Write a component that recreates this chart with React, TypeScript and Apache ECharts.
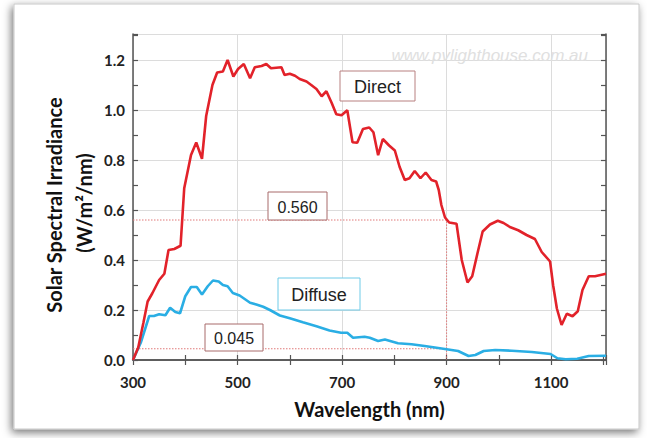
import React, { useEffect, useRef } from "react";
import * as echarts from "echarts";

const directWl = [300, 310, 320, 328, 337, 350, 360, 368, 379, 391, 398, 411, 421, 432, 440, 452, 461, 472, 481, 492, 501, 512, 524, 533, 546, 555, 564, 584, 590, 600, 610, 619, 632, 641, 651, 661, 670, 680, 689, 699, 710, 720, 729, 740, 752, 760, 769, 778, 790, 801, 810, 820, 829, 839, 850, 860, 871, 880, 885, 890, 897, 905, 919, 929, 940, 949, 959, 969, 983, 998, 1009, 1021, 1037, 1053, 1069, 1082, 1098, 1104, 1111, 1120, 1130, 1141, 1151, 1160, 1172, 1184, 1205];
const directVal = [0, 0.05, 0.15, 0.234, 0.267, 0.32, 0.345, 0.44, 0.444, 0.457, 0.687, 0.82, 0.87, 0.805, 0.976, 1.1, 1.15, 1.154, 1.2, 1.134, 1.164, 1.184, 1.127, 1.171, 1.176, 1.184, 1.167, 1.171, 1.14, 1.145, 1.137, 1.124, 1.114, 1.1, 1.084, 1.055, 1.075, 1.029, 0.983, 0.979, 0.999, 0.871, 0.869, 0.924, 0.93, 0.911, 0.819, 0.884, 0.858, 0.838, 0.773, 0.72, 0.727, 0.756, 0.727, 0.75, 0.72, 0.714, 0.68, 0.62, 0.57, 0.55, 0.545, 0.4, 0.31, 0.335, 0.426, 0.514, 0.542, 0.557, 0.548, 0.532, 0.519, 0.5, 0.484, 0.432, 0.394, 0.297, 0.206, 0.14, 0.185, 0.175, 0.195, 0.28, 0.335, 0.335, 0.345];

const diffuseWl = [300, 315, 331, 340, 350, 362, 371, 381, 390, 400, 411, 422, 432, 443, 453, 464, 472, 481, 491, 504, 513, 524, 536, 549, 562, 581, 600, 625, 651, 676, 698, 710, 721, 743, 753, 769, 782, 807, 833, 858, 884, 900, 922, 942, 955, 971, 993, 1025, 1063, 1099, 1112, 1128, 1150, 1172, 1205];
const diffuseVal = [0, 0.07, 0.176, 0.176, 0.183, 0.179, 0.209, 0.192, 0.187, 0.255, 0.292, 0.292, 0.262, 0.295, 0.318, 0.314, 0.3, 0.295, 0.268, 0.258, 0.245, 0.229, 0.222, 0.213, 0.2, 0.178, 0.167, 0.151, 0.135, 0.118, 0.109, 0.109, 0.089, 0.093, 0.089, 0.076, 0.082, 0.067, 0.063, 0.056, 0.048, 0.043, 0.036, 0.016, 0.02, 0.036, 0.04, 0.037, 0.032, 0.024, 0.007, 0.003, 0.005, 0.016, 0.017];

const xTickLabels = ["300", "500", "700", "900", "1100"];
const yTickLabels = ["0.0", "0.2", "0.4", "0.6", "0.8", "1.0", "1.2"];
const refStartWl = 300;
const refWl = 900;
const directRef = 0.56;
const diffuseRef = 0.045;

const RED = "#e2222a";
const BLUE = "#2aaee4";
const REF_COLOR = "#e07878";
const LABEL_FONT = "Lato, 'Open Sans', sans-serif";

export default function App() {
  const ref = useRef<HTMLDivElement>(null);
  useEffect(() => {
    if (!ref.current) return;
    const chart = echarts.init(ref.current, null, { renderer: "svg" });
    const axisLine = { show: true, lineStyle: { color: "#555", width: 1.5 } };
    const xCommon = {
      type: "value",
      min: 300,
      max: 1205,
      interval: 200,
      axisLine,
      axisTick: { show: true, inside: true, length: 5, lineStyle: { color: "#555", width: 1.2 } },
      minorTick: { show: true, splitNumber: 2, length: 5, lineStyle: { color: "#555", width: 1.2 } },
    };
    const yCommon = {
      type: "value",
      min: 0,
      max: 1.304,
      interval: 0.2,
      axisLine,
      axisTick: { show: true, inside: true, length: 5, lineStyle: { color: "#555", width: 1.2 } },
      minorTick: { show: true, splitNumber: 2, length: 5, lineStyle: { color: "#555", width: 1.2 } },
    };
    const box = (x: number, y: number, w: number, h: number, stroke: string, text: string, size: number) => [
      { type: "rect", z: 100, shape: { x, y, width: w, height: h }, style: { fill: "#fff", stroke, lineWidth: 1 } },
      {
        type: "text", z: 101, x: x + w / 2, y: y + h / 2 + 1,
        style: { text, fill: "#222", font: `${size}px 'Liberation Sans', Arial, sans-serif`, align: "center", verticalAlign: "middle" },
      },
    ];
    const refLine = (data: number[][]) => ({
      type: "line",
      data,
      silent: true,
      showSymbol: false,
      symbol: "none",
      z: 1,
      lineStyle: { color: REF_COLOR, width: 1, type: [1.5, 1.5] },
      itemStyle: { color: REF_COLOR },
    });
    chart.setOption({
      animation: false,
      backgroundColor: "#fff",
      grid: { left: 133, right: 41, top: 34, bottom: 78 },
      xAxis: [
        {
          ...xCommon,
          position: "bottom",
          splitLine: { show: true, lineStyle: { color: "#dcdcdc", width: 1 } },
          axisLabel: {
            margin: 14,
            color: "#222",
            fontWeight: "bold",
            fontSize: 15,
            fontFamily: LABEL_FONT,
            formatter: (v: number) => {
              const k = Math.round((v - 300) / 200);
              return Math.abs(v - 300 - k * 200) < 1e-6 && xTickLabels[k] !== undefined ? xTickLabels[k] : "";
            },
          },
          name: "Wavelength (nm)",
          nameLocation: "middle",
          nameGap: 39,
          nameTextStyle: { color: "#111", fontWeight: "bold", fontSize: 20, fontFamily: LABEL_FONT },
        },
        { ...xCommon, position: "top", splitLine: { show: false }, axisLabel: { show: false } },
      ],
      yAxis: [
        {
          ...yCommon,
          position: "left",
          splitLine: { show: true, lineStyle: { color: "#dcdcdc", width: 1 } },
          axisLabel: {
            margin: 8,
            color: "#222",
            fontWeight: "bold",
            fontSize: 15,
            fontFamily: LABEL_FONT,
            formatter: (v: number) => {
              const k = Math.round(v / 0.2);
              return Math.abs(v - k * 0.2) < 1e-6 && yTickLabels[k] !== undefined ? yTickLabels[k] : "";
            },
          },
        },
        { ...yCommon, position: "right", splitLine: { show: false }, axisLabel: { show: false } },
      ],
      graphic: [
        {
          type: "rect", z: -10, silent: true,
          shape: { x: 14, y: 4, width: 625, height: 425 },
          style: { fill: "#fff", stroke: "#c8c8c8", lineWidth: 1, shadowBlur: 8, shadowOffsetX: -2, shadowOffsetY: 3, shadowColor: "rgba(0,0,0,0.55)" },
        },
        {
          type: "text", z: 5, x: 588, y: 55,
          style: { text: "www.pvlighthouse.com.au", fill: "#e0e0e0", font: "italic 17px 'Liberation Sans', Arial, sans-serif", align: "right", verticalAlign: "middle" },
        },
        {
          type: "text", x: 54, y: 205, rotation: Math.PI / 2,
          style: { text: "Solar Spectral Irradiance", fill: "#111", font: `bold 20px ${LABEL_FONT}`, align: "center", verticalAlign: "middle" },
        },
        {
          type: "text", x: 84, y: 203, rotation: Math.PI / 2,
          style: { text: "(W/m\u00b2/nm)", fill: "#111", font: `bold 20px ${LABEL_FONT}`, align: "center", verticalAlign: "middle" },
        },
        ...box(340, 71, 75, 30, "#b88080", "Direct", 18),
        ...box(268, 192, 59, 28, "#a86a6a", "0.560", 16),
        ...box(205, 324, 58, 27, "#a86a6a", "0.045", 16),
        ...box(278, 278, 82, 32, "#6fcbe8", "Diffuse", 18),
      ],
      series: [
        refLine([[refStartWl, directRef], [refWl, directRef], [refWl, 0]]),
        refLine([[refStartWl, diffuseRef], [refWl, diffuseRef]]),
        {
          type: "line",
          name: "Direct",
          data: directWl.map((w, i) => [w, directVal[i]]),
          showSymbol: false,
          symbol: "none",
          lineStyle: { color: RED, width: 2.6 },
          itemStyle: { color: RED },
          z: 3,
        },
        {
          type: "line",
          name: "Diffuse",
          data: diffuseWl.map((w, i) => [w, diffuseVal[i]]),
          showSymbol: false,
          symbol: "none",
          lineStyle: { color: BLUE, width: 2.6 },
          itemStyle: { color: BLUE },
          z: 2,
        },
      ],
    });
    return () => chart.dispose();
  }, []);
  return <div ref={ref} style={{ position: "fixed", left: 0, top: 0, width: 647, height: 438 }} />;
}
